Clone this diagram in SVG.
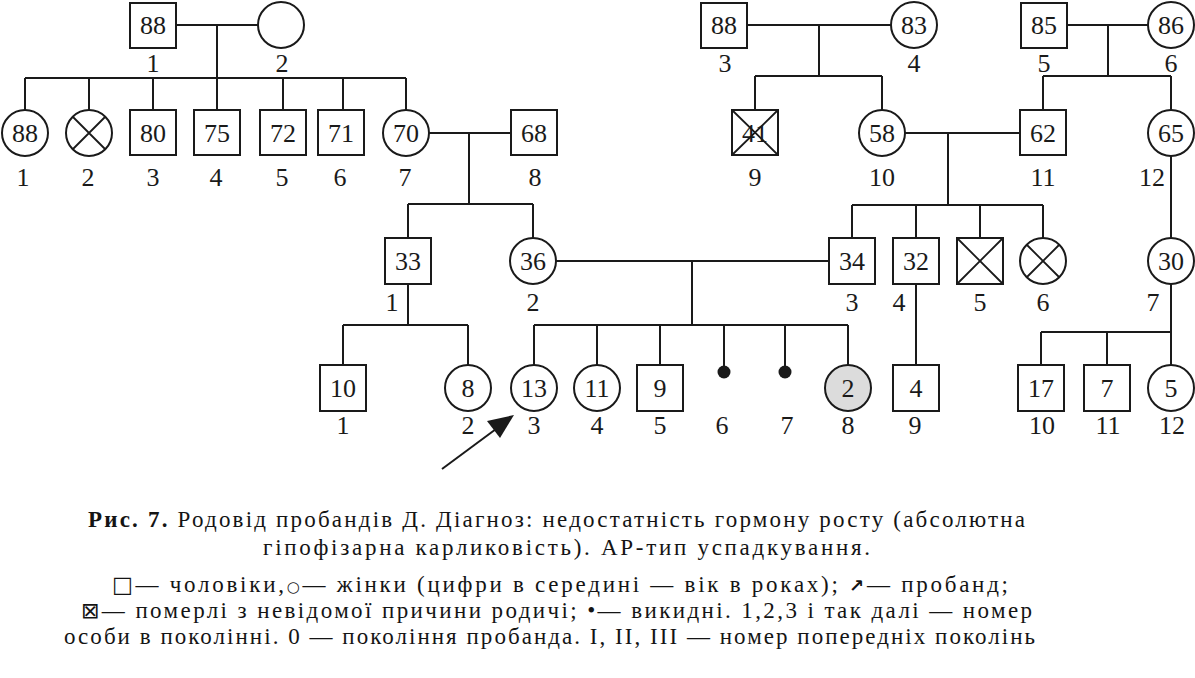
<svg xmlns="http://www.w3.org/2000/svg" width="1195" height="678" viewBox="0 0 1195 678">
<style>
.ln{stroke:#1a1a1a;stroke-width:2;fill:none}
.sh{stroke:#1a1a1a;stroke-width:2;fill:#fff}
.gr{stroke:#1a1a1a;stroke-width:2;fill:#dcdcdc}
.x{stroke:#1a1a1a;stroke-width:1.8}
.dot{fill:#1a1a1a}
.t{font-family:"Liberation Serif",serif;font-size:26px;fill:#1a1a1a;text-anchor:middle}
.cap{font-family:"Liberation Serif",serif;font-size:23px;fill:#141414}
.sym{font-family:"DejaVu Sans",sans-serif}
</style>
<rect width="1195" height="678" fill="#fff"/>
<g id="connectors" class="ln">
<path d="M176,25H258M217,25V110M25,78H406M25,78V110M89,78V110M153,78V110M283,78V110M343,78V110M406,78V110"/>
<path d="M429,133H511M469,133V204M408,204H533M408,204V238M533,204V238"/>
<path d="M747,25H891M819,25V76M755,76H882M755,76V110M882,76V110"/>
<path d="M1067,25H1148M1108,25V76M1043,76H1171M1043,76V110M1171,76V110"/>
<path d="M905,133H1020M948,133V205M852,205H1043M852,205V238M916,205V238M980,205V238M1043,205V238"/>
<path d="M1171,156V238"/>
<path d="M556,261H829M692,261V325M534,325H848M534,325V365M597,325V365M660,325V365M724,325V368M785,325V368M848,325V365"/>
<path d="M408,284V325M343,325H468M343,325V365M468,325V365"/>
<path d="M916,284V365"/>
<path d="M1171,284V365M1041,332H1171M1041,332V365M1107,332V365"/>
<path d="M442,469L496,429"/>
<polygon points="514,415 500,438 487,421" fill="#1a1a1a" stroke="none"/>
</g>
<g id="I-1"><rect class="sh" x="130" y="3" width="46" height="45"/><text class="t" x="153" y="34">88</text><text class="t" x="153" y="72">1</text></g>
<g id="I-2"><circle class="sh" cx="281" cy="25" r="23"/><text class="t" x="282" y="72">2</text></g>
<g id="I-3"><rect class="sh" x="701" y="3" width="46" height="45"/><text class="t" x="724" y="34">88</text><text class="t" x="725" y="72">3</text></g>
<g id="I-4"><circle class="sh" cx="914" cy="25" r="23"/><text class="t" x="914" y="34">83</text><text class="t" x="914" y="72">4</text></g>
<g id="I-5"><rect class="sh" x="1021" y="3" width="46" height="45"/><text class="t" x="1044" y="34">85</text><text class="t" x="1044" y="72">5</text></g>
<g id="I-6"><circle class="sh" cx="1171" cy="25" r="23"/><text class="t" x="1171" y="34">86</text><text class="t" x="1171" y="72">6</text></g>

<g id="II-1"><circle class="sh" cx="25" cy="133" r="23"/><text class="t" x="25" y="142">88</text><text class="t" x="23" y="186">1</text></g>
<g id="II-2"><circle class="sh" cx="89" cy="133" r="23"/><path class="x" d="M73,117L105,149M105,117L73,149"/><text class="t" x="88" y="186">2</text></g>
<g id="II-3"><rect class="sh" x="130" y="110" width="46" height="45"/><text class="t" x="153" y="142">80</text><text class="t" x="153" y="186">3</text></g>
<g id="II-4"><rect class="sh" x="194" y="110" width="46" height="45"/><text class="t" x="217" y="142">75</text><text class="t" x="216" y="186">4</text></g>
<g id="II-5"><rect class="sh" x="260" y="110" width="46" height="45"/><text class="t" x="283" y="142">72</text><text class="t" x="282" y="186">5</text></g>
<g id="II-6"><rect class="sh" x="318" y="110" width="46" height="45"/><text class="t" x="341" y="142">71</text><text class="t" x="340" y="186">6</text></g>
<g id="II-7"><circle class="sh" cx="406" cy="133" r="23"/><text class="t" x="406" y="142">70</text><text class="t" x="405" y="186">7</text></g>
<g id="II-8"><rect class="sh" x="511" y="110" width="46" height="45"/><text class="t" x="534" y="142">68</text><text class="t" x="535" y="186">8</text></g>
<g id="II-9"><rect class="sh" x="732" y="110" width="46" height="45"/><text class="t" x="755" y="142">41</text><path class="x" d="M732,110L778,155M778,110L732,155"/><text class="t" x="755" y="186">9</text></g>
<g id="II-10"><circle class="sh" cx="882" cy="133" r="23"/><text class="t" x="882" y="142">58</text><text class="t" x="882" y="186">10</text></g>
<g id="II-11"><rect class="sh" x="1020" y="110" width="46" height="45"/><text class="t" x="1043" y="142">62</text><text class="t" x="1043" y="186">11</text></g>
<g id="II-12"><circle class="sh" cx="1171" cy="133" r="23"/><text class="t" x="1171" y="142">65</text><text class="t" x="1152" y="186">12</text></g>

<g id="III-1"><rect class="sh" x="385" y="238" width="46" height="46"/><text class="t" x="408" y="270">33</text><text class="t" x="392" y="311">1</text></g>
<g id="III-2"><circle class="sh" cx="533" cy="261" r="23"/><text class="t" x="533" y="270">36</text><text class="t" x="533" y="311">2</text></g>
<g id="III-3"><rect class="sh" x="829" y="238" width="46" height="46"/><text class="t" x="852" y="270">34</text><text class="t" x="852" y="311">3</text></g>
<g id="III-4"><rect class="sh" x="893" y="238" width="46" height="46"/><text class="t" x="916" y="270">32</text><text class="t" x="899" y="311">4</text></g>
<g id="III-5"><rect class="sh" x="957" y="238" width="46" height="46"/><path class="x" d="M957,238L1003,284M1003,238L957,284"/><text class="t" x="980" y="311">5</text></g>
<g id="III-6"><circle class="sh" cx="1043" cy="261" r="23"/><path class="x" d="M1027,245L1059,277M1059,245L1027,277"/><text class="t" x="1043" y="311">6</text></g>
<g id="III-7"><circle class="sh" cx="1171" cy="261" r="23"/><text class="t" x="1171" y="270">30</text><text class="t" x="1153" y="311">7</text></g>

<g id="IV-1"><rect class="sh" x="320" y="365" width="46" height="46"/><text class="t" x="343" y="397">10</text><text class="t" x="343" y="434">1</text></g>
<g id="IV-2"><circle class="sh" cx="468" cy="388" r="23"/><text class="t" x="468" y="397">8</text><text class="t" x="468" y="434">2</text></g>
<g id="IV-3"><circle class="sh" cx="534" cy="388" r="23"/><text class="t" x="534" y="397">13</text><text class="t" x="534" y="434">3</text></g>
<g id="IV-4"><circle class="sh" cx="597" cy="388" r="23"/><text class="t" x="597" y="397">11</text><text class="t" x="597" y="434">4</text></g>
<g id="IV-5"><rect class="sh" x="637" y="365" width="46" height="46"/><text class="t" x="660" y="397">9</text><text class="t" x="660" y="434">5</text></g>
<g id="IV-6"><circle class="dot" cx="724" cy="372" r="6.5"/><text class="t" x="722" y="434">6</text></g>
<g id="IV-7"><circle class="dot" cx="785" cy="372" r="6.5"/><text class="t" x="787" y="434">7</text></g>
<g id="IV-8"><circle class="gr" cx="848" cy="388" r="23"/><text class="t" x="848" y="397">2</text><text class="t" x="848" y="434">8</text></g>
<g id="IV-9"><rect class="sh" x="893" y="365" width="46" height="46"/><text class="t" x="916" y="397">4</text><text class="t" x="915" y="434">9</text></g>
<g id="IV-10"><rect class="sh" x="1018" y="365" width="46" height="46"/><text class="t" x="1041" y="397">17</text><text class="t" x="1042" y="434">10</text></g>
<g id="IV-11"><rect class="sh" x="1084" y="365" width="46" height="46"/><text class="t" x="1107" y="397">7</text><text class="t" x="1108" y="434">11</text></g>
<g id="IV-12"><circle class="sh" cx="1171" cy="388" r="23"/><text class="t" x="1171" y="397">5</text><text class="t" x="1172" y="434">12</text></g>

<g id="caption" class="cap">
<text x="88" y="527" textLength="937" lengthAdjust="spacing"><tspan font-weight="bold">Рис. 7.</tspan> Родовід пробандів Д. Діагноз: недостатність гормону росту (абсолютна</text>
<text x="263" y="555" textLength="607" lengthAdjust="spacing">гіпофізарна карликовість). АР-тип успадкування.</text>
<text x="112" y="592" textLength="896" lengthAdjust="spacing"><tspan class="sym" font-size="22">□</tspan>— чоловіки,<tspan class="sym" font-size="15">○</tspan>— жінки (цифри в середині — вік в роках); <tspan class="sym" font-size="18" font-weight="bold">↗</tspan>— пробанд;</text>
<text x="81" y="618" textLength="951" lengthAdjust="spacing"><tspan class="sym" font-size="22">⊠</tspan>— померлі з невідомої причини родичі; •— викидні. 1,2,3 і так далі — номер</text>
<text x="64" y="644" textLength="971" lengthAdjust="spacing">особи в поколінні. 0 — покоління пробанда. I, II, III — номер попередніх поколінь</text>
</g>
</svg>
